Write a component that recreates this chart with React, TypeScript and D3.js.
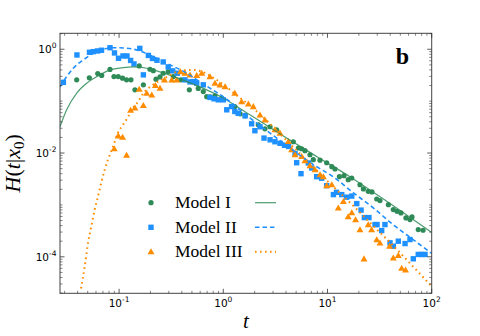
import React from "react";
import * as d3 from "d3";

// ---- data ----
const model1T = [0.0392,0.0518,0.0624,0.0681,0.0818,0.0893,0.0982,0.108,0.118,0.130,0.142,0.156,0.171,0.198,0.213,0.226,0.247,0.265,0.296,0.331,0.393,0.472,0.575,0.643,0.693,0.745,0.832,0.966,1.29,1.45,1.62,2.17,2.51,2.81,3.25,4.70,5.25,5.65,6.08,6.79,7.31,8.47,9.82,11.0,11.8,13.0,14.4,15.8,17.1,20.5,22.1,24.6,26.7,29.7,31.9,38.4,42.8,46.5,50.7,56.6,61.9,64.7,74.3,82.6];
const model1H = [0.257,0.281,0.340,0.313,0.409,0.297,0.297,0.277,0.257,0.257,0.165,0.477,0.206,0.412,0.387,0.265,0.293,0.345,0.371,0.297,0.257,0.165,0.176,0.153,0.122,0.121,0.126,0.114,0.0787,0.057,0.0521,0.035,0.0293,0.0321,0.0281,0.0165,0.0125,0.0121,0.0111,0.00927,0.00743,0.00727,0.0065,0.00545,0.00492,0.0035,0.00366,0.00307,0.0033,0.00245,0.00203,0.00183,0.00178,0.0013,0.00121,0.00101,0.000813,0.000753,0.000702,0.000562,0.000521,0.000587,0.000335,0.000325];

const model2T = [0.0292,0.0394,0.052,0.0565,0.0621,0.0678,0.0818,0.0904,0.0987,0.109,0.119,0.129,0.139,0.158,0.171,0.191,0.209,0.231,0.265,0.296,0.327,0.362,0.429,0.479,0.515,0.556,0.643,0.745,0.815,0.895,1.0,1.08,1.20,1.29,1.39,1.62,1.87,2.01,2.25,2.46,2.81,3.13,3.50,3.87,4.23,4.88,5.06,5.57,6.55,7.05,7.87,8.79,9.82,11.4,12.2,13.7,15.3,17.1,19.1,21.0,22.6,25.0,28.6,29.9,33.1,35.6,39.8,42.8,47.8,55.5,61.9,66.6,74.3,80.2,86.3];
const model2H = [0.230,0.776,0.875,0.899,0.927,0.957,1.07,0.849,0.671,0.743,0.743,0.609,0.521,1.04,0.321,0.760,0.665,0.614,0.570,0.457,0.383,0.345,0.257,0.235,0.238,0.222,0.206,0.118,0.111,0.106,0.106,0.0681,0.0787,0.0631,0.0582,0.0521,0.0366,0.0269,0.0321,0.0194,0.018,0.0165,0.0154,0.0141,0.0134,0.0097,0.0065,0.004,0.00643,0.00515,0.0035,0.00327,0.00235,0.00158,0.00175,0.00158,0.00141,0.00148,0.00106,0.000794,0.00057,0.00057,0.000418,0.000418,0.000321,0.000418,0.000186,0.00016,0.0002,0.00018,0.000215,0.0000916,0.000111,0.000111,0.000111];

const model3T = [0.0899,0.0982,0.108,0.118,0.129,0.142,0.171,0.156,0.184,0.206,0.223,0.247,0.273,0.32,0.357,0.388,0.429,0.479,0.556,0.621,0.745,0.832,0.929,1.04,1.29,1.50,1.74,1.94,2.25,2.51,3.13,3.50,4.21,4.53,4.88,5.65,6.08,6.79,7.59,8.47,9.12,9.82,11.0,12.7,14.2,15.8,17.1,18.6,20.5,22.4,24.6,26.5,29.7,31.9,39.4,42.8,47.8,51.5,56.1];
const model3H = [0.0121,0.0215,0.0203,0.00908,0.0671,0.0743,0.083,0.17,0.143,0.132,0.201,0.178,0.257,0.257,0.257,0.371,0.345,0.321,0.313,0.345,0.297,0.222,0.206,0.191,0.143,0.0982,0.0887,0.0787,0.0545,0.0437,0.0281,0.0243,0.0167,0.0116,0.00927,0.00861,0.00711,0.0057,0.00477,0.00383,0.0035,0.00235,0.00245,0.000875,0.00117,0.000596,0.000711,0.000521,0.000335,0.0000916,0.000418,0.000335,0.000215,0.000186,0.000161,0.0000957,0.000106,0.0000604,0.0000557];

const fit1T = [0.0271,0.0314,0.0392,0.0489,0.0656,0.0818,0.110,0.137,0.184,0.247,0.384,0.597,0.929,1.80,3.74,7.93,16.4,39.8,100];
const fit1H = [0.0321,0.0681,0.143,0.222,0.321,0.400,0.443,0.457,0.431,0.366,0.269,0.188,0.124,0.0545,0.0215,0.00849,0.0035,0.00106,0.000293];
const fit2T = [0.0271,0.0314,0.0363,0.0453,0.0565,0.0705,0.0879,0.118,0.158,0.213,0.286,0.446,0.597,1.0,1.80,3.74,7.59,11.3,17.6,27.3,42.6,66.2,100];
const fit2H = [0.188,0.297,0.431,0.622,0.838,1.0,1.07,1.05,0.927,0.721,0.538,0.345,0.235,0.121,0.0477,0.0158,0.0057,0.0035,0.00173,0.000887,0.000418,0.000215,0.000116];
const fit3T = [0.0431,0.0468,0.0504,0.0541,0.0583,0.0627,0.0675,0.0728,0.0782,0.0873,0.0975,0.109,0.122,0.136,0.152,0.169,0.211,0.288,0.384,0.512,0.667,0.832,1.04,1.29,1.62,2.01,2.51,3.13,3.91,5.45,7.59,10.6,17.6,27.3,42.6,66.2,100];
const fit3H = [2.45e-5,6.5e-5,1.88e-4,3.83e-4,8.13e-4,1.45e-3,2.69e-3,4.77e-3,7.43e-3,0.0132,0.0245,0.035,0.0499,0.0743,0.097,0.138,0.206,0.293,0.383,0.400,0.350,0.269,0.197,0.138,0.097,0.0681,0.0457,0.0293,0.0188,0.0097,0.00499,0.00257,0.00097,0.0004,0.000165,0.000065,0.0000269];

const xTickExps = [-1, 0, 1, 2];
const yTickExps = [-4, -2, 0];
const legendLabels = ["Model I", "Model II", "Model III"];
const panelLabel = "b";

const X_DOMAIN = [0.0271, 100];
const Y_DOMAIN = [1.98e-5, 2.03];

const GREEN = "#2e8b57";
const BLUE = "#1e90ff";
const ORANGE = "#ff8c00";

export default function App() {
  const L = 60, R = 431.7, T = 33.3, B = 293.3;
  const x = d3.scaleLog().domain(X_DOMAIN).range([L, R]);
  const y = d3.scaleLog().domain(Y_DOMAIN).range([B, T]);

  const zip = (a: number[], b: number[]) => a.map((v, i) => [v, b[i]] as [number, number]);
  const line = d3
    .line<[number, number]>()
    .x((d) => x(d[0]))
    .y((d) => y(d[1]))
    .curve(d3.curveMonotoneX);

  const tri = d3.symbol().type(d3.symbolTriangle).size(21)() as string;

  const xMinor: number[] = [];
  for (let e = -2; e <= 1; e++) for (let k = 2; k <= 9; k++) {
    const v = k * Math.pow(10, e);
    if (v >= X_DOMAIN[0] && v <= X_DOMAIN[1]) xMinor.push(v);
  }
  const yMinor: number[] = [];
  for (let e = -5; e <= 0; e++) for (let k = 1; k <= 9; k++) {
    if (k === 1 && yTickExps.includes(e)) continue;
    const v = k * Math.pow(10, e);
    if (v >= Y_DOMAIN[0] && v <= Y_DOMAIN[1]) yMinor.push(v);
  }

  const tickColor = "#333";
  const sans = "'DejaVu Sans', sans-serif";
  const serif = "'Liberation Serif', 'Times New Roman', serif";

  const legY = [202.7, 227.3, 251.7];

  return (
    <svg
      width={480}
      height={336}
      style={{ position: "absolute", left: 0, top: 0, background: "#fff" }}
    >
      <defs>
        <clipPath id="plotclip">
          <rect x={L} y={T} width={R - L} height={B - T} />
        </clipPath>
      </defs>
      <rect x={0} y={0} width={480} height={336} fill="#fff" />

      <g clipPath="url(#plotclip)">
        {zip(model1T, model1H).map((d, i) => (
          <circle key={"g" + i} cx={x(d[0])} cy={y(d[1])} r={2.6} fill={GREEN} />
        ))}
        {zip(model2T, model2H).map((d, i) => (
          <rect key={"b" + i} x={x(d[0]) - 2.7} y={y(d[1]) - 2.7} width={5.4} height={5.4} fill={BLUE} />
        ))}
        {zip(model3T, model3H).map((d, i) => (
          <path key={"o" + i} d={tri} transform={`translate(${x(d[0])},${y(d[1]) + 0.6})`} fill={ORANGE} />
        ))}
        <path d={line(zip(fit1T, fit1H)) || ""} fill="none" stroke={GREEN} strokeWidth={1.2} strokeOpacity={0.85} />
        <path d={line(zip(fit2T, fit2H)) || ""} fill="none" stroke={BLUE} strokeWidth={1.6} strokeDasharray="4.5,3" />
        <path d={line(zip(fit3T, fit3H)) || ""} fill="none" stroke={ORANGE} strokeWidth={2} strokeDasharray="1.6,3.4" />
      </g>

      <rect x={L} y={T} width={R - L} height={B - T} fill="none" stroke="#444" strokeWidth={1} />

      {xTickExps.map((e) => {
        const px = x(Math.pow(10, e));
        return (
          <g key={"xt" + e}>
            <line x1={px} x2={px} y1={B} y2={B - 4.5} stroke={tickColor} strokeWidth={0.8} />
            <line x1={px} x2={px} y1={T} y2={T + 4.5} stroke={tickColor} strokeWidth={0.8} />
            <text x={px} y={307} textAnchor="middle" fontFamily={sans} fontSize={10.5} fill="#000">
              10<tspan dy={-5} fontSize={7.5}>{String(e)}</tspan>
            </text>
          </g>
        );
      })}
      {xMinor.map((v, i) => {
        const px = x(v);
        return (
          <g key={"xm" + i}>
            <line x1={px} x2={px} y1={B} y2={B - 2.5} stroke={tickColor} strokeWidth={0.6} />
            <line x1={px} x2={px} y1={T} y2={T + 2.5} stroke={tickColor} strokeWidth={0.6} />
          </g>
        );
      })}
      {yTickExps.map((e) => {
        const py = y(Math.pow(10, e));
        return (
          <g key={"yt" + e}>
            <line x1={L} x2={L + 4.5} y1={py} y2={py} stroke={tickColor} strokeWidth={0.8} />
            <line x1={R} x2={R - 4.5} y1={py} y2={py} stroke={tickColor} strokeWidth={0.8} />
            <text x={56.5} y={py + 4} textAnchor="end" fontFamily={sans} fontSize={10.5} fill="#000">
              10<tspan dy={-5} fontSize={7.5}>{String(e)}</tspan>
            </text>
          </g>
        );
      })}
      {yMinor.map((v, i) => {
        const py = y(v);
        return (
          <g key={"ym" + i}>
            <line x1={L} x2={L + 2.5} y1={py} y2={py} stroke={tickColor} strokeWidth={0.6} />
            <line x1={R} x2={R - 2.5} y1={py} y2={py} stroke={tickColor} strokeWidth={0.6} />
          </g>
        );
      })}

      <text x={245.8} y={328} textAnchor="middle" fontFamily={serif} fontStyle="italic" fontSize={21}>
        t
      </text>
      <text
        transform={`translate(20,${(T + B) / 2}) rotate(-90)`}
        textAnchor="middle"
        fontFamily={serif}
        fontSize={22}
      >
        <tspan fontStyle="italic">H</tspan>
        <tspan>(</tspan>
        <tspan fontStyle="italic">t</tspan>
        <tspan>|</tspan>
        <tspan fontStyle="italic">x</tspan>
        <tspan dy={4} fontSize={15}>0</tspan>
        <tspan dy={-4}>)</tspan>
      </text>

      <text x={402.5} y={63.5} textAnchor="middle" fontFamily={serif} fontWeight="bold" fontSize={24}>
        {panelLabel}
      </text>

      <circle cx={151} cy={legY[0]} r={2.6} fill={GREEN} />
      <rect x={151 - 2.7} y={legY[1] - 2.7} width={5.4} height={5.4} fill={BLUE} />
      <path d={tri} transform={`translate(151,${legY[2] + 0.6})`} fill={ORANGE} />
      {legendLabels.map((lab, i) => (
        <text key={lab} x={175} y={legY[i] + 5.7} fontFamily={serif} fontSize={17.5} fill="#000">
          {lab}
        </text>
      ))}
      <line x1={255} x2={276} y1={legY[0]} y2={legY[0]} stroke={GREEN} strokeWidth={1.2} strokeOpacity={0.85} />
      <line x1={255} x2={276} y1={legY[1]} y2={legY[1]} stroke={BLUE} strokeWidth={1.6} strokeDasharray="4.5,3" />
      <line x1={255} x2={276} y1={legY[2]} y2={legY[2]} stroke={ORANGE} strokeWidth={2} strokeDasharray="1.6,3.4" />
    </svg>
  );
}
